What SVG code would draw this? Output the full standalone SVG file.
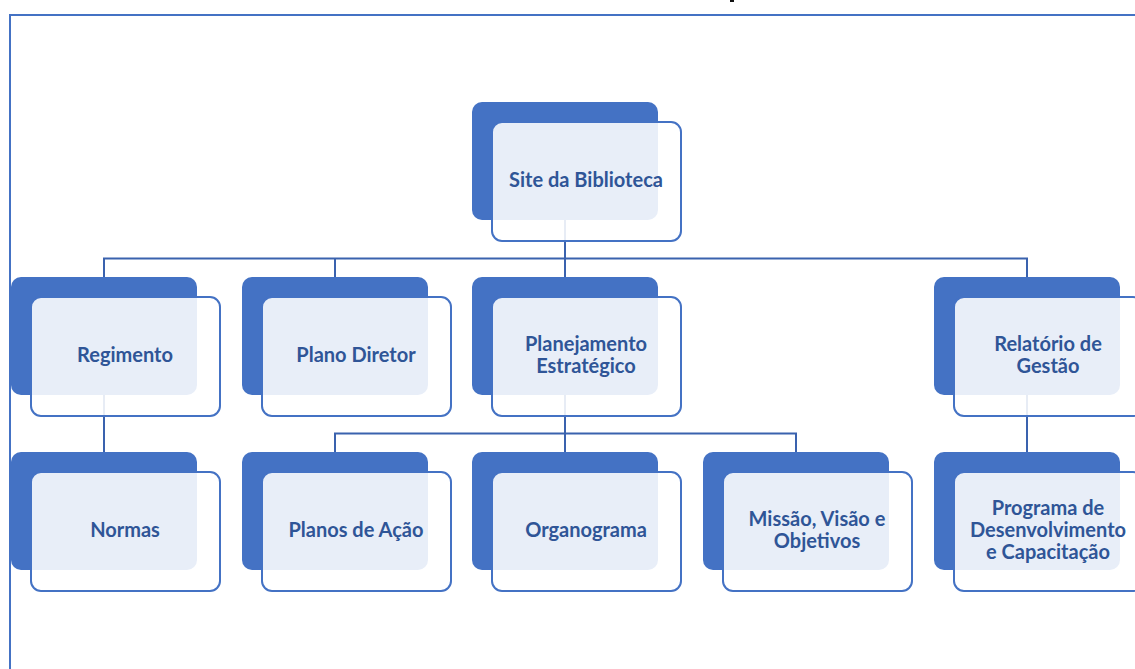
<svg xmlns="http://www.w3.org/2000/svg" width="1135" height="669" viewBox="0 0 1135 669">
  <style>
    .frame { fill: none; stroke: #4472C4; stroke-width: 2; }
    .link { fill: none; stroke: #3A62AE; stroke-width: 2; }
    .back { fill: #4472C4; }
    .front { fill: #FFFFFF; fill-opacity: 0.88; stroke: #4472C4; stroke-width: 2; }
    .label { font-family: Lato, "Liberation Sans", sans-serif; font-weight: 700; font-size: 20px; fill: #2F5597; text-anchor: middle; }
  </style>
  <rect width="1135" height="669" fill="#FFFFFF"/>
  <!-- page frame -->
  <path class="frame" d="M10 669 V15 H1135"/>
  <rect x="730" y="0" width="4" height="2" fill="#111111"/>

  <!-- connectors -->
  <g id="connectors">
    <path class="link" d="M565 220 V258.5"/>
    <path class="link" d="M104 277 V258.5 H1027 V277"/>
    <path class="link" d="M335 258.5 V277"/>
    <path class="link" d="M565 258.5 V277"/>
    <path class="link" d="M104 395 V452"/>
    <path class="link" d="M565 395 V433.5"/>
    <path class="link" d="M335 452 V433.5 H796 V452"/>
    <path class="link" d="M565 433.5 V452"/>
    <path class="link" d="M1027 395 V452"/>
  </g>

  <!-- level 0 -->
  <g id="site-biblioteca">
    <rect class="back" x="472" y="102" width="186" height="118" rx="10"/>
    <rect class="front" x="492" y="122" width="189" height="119" rx="10"/>
    <text class="label" x="586" y="187">Site da Biblioteca</text>
  </g>

  <!-- level 1 -->
  <g id="regimento">
    <rect class="back" x="11" y="277" width="186" height="118" rx="10"/>
    <rect class="front" x="31" y="297" width="189" height="119" rx="10"/>
    <text class="label" x="125" y="362">Regimento</text>
  </g>
  <g id="plano-diretor">
    <rect class="back" x="242" y="277" width="186" height="118" rx="10"/>
    <rect class="front" x="262" y="297" width="189" height="119" rx="10"/>
    <text class="label" x="356" y="362">Plano Diretor</text>
  </g>
  <g id="planejamento-estrategico">
    <rect class="back" x="472" y="277" width="186" height="118" rx="10"/>
    <rect class="front" x="492" y="297" width="189" height="119" rx="10"/>
    <text class="label" x="586" y="351">Planejamento</text>
    <text class="label" x="586" y="373">Estratégico</text>
  </g>
  <g id="relatorio-gestao">
    <rect class="back" x="934" y="277" width="186" height="118" rx="10"/>
    <rect class="front" x="954" y="297" width="189" height="119" rx="10"/>
    <text class="label" x="1048" y="351">Relatório de</text>
    <text class="label" x="1048" y="373">Gestão</text>
  </g>

  <!-- level 2 -->
  <g id="normas">
    <rect class="back" x="11" y="452" width="186" height="118" rx="10"/>
    <rect class="front" x="31" y="472" width="189" height="119" rx="10"/>
    <text class="label" x="125" y="537">Normas</text>
  </g>
  <g id="planos-acao">
    <rect class="back" x="242" y="452" width="186" height="118" rx="10"/>
    <rect class="front" x="262" y="472" width="189" height="119" rx="10"/>
    <text class="label" x="356" y="537">Planos de Ação</text>
  </g>
  <g id="organograma">
    <rect class="back" x="472" y="452" width="186" height="118" rx="10"/>
    <rect class="front" x="492" y="472" width="189" height="119" rx="10"/>
    <text class="label" x="586" y="537">Organograma</text>
  </g>
  <g id="missao-visao-objetivos">
    <rect class="back" x="703" y="452" width="186" height="118" rx="10"/>
    <rect class="front" x="723" y="472" width="189" height="119" rx="10"/>
    <text class="label" x="817" y="526">Missão, Visão e</text>
    <text class="label" x="817" y="548">Objetivos</text>
  </g>
  <g id="programa-desenvolvimento">
    <rect class="back" x="934" y="452" width="186" height="118" rx="10"/>
    <rect class="front" x="954" y="472" width="189" height="119" rx="10"/>
    <text class="label" x="1048" y="515">Programa de</text>
    <text class="label" x="1048" y="537">Desenvolvimento</text>
    <text class="label" x="1048" y="559">e Capacitação</text>
  </g>
</svg>
